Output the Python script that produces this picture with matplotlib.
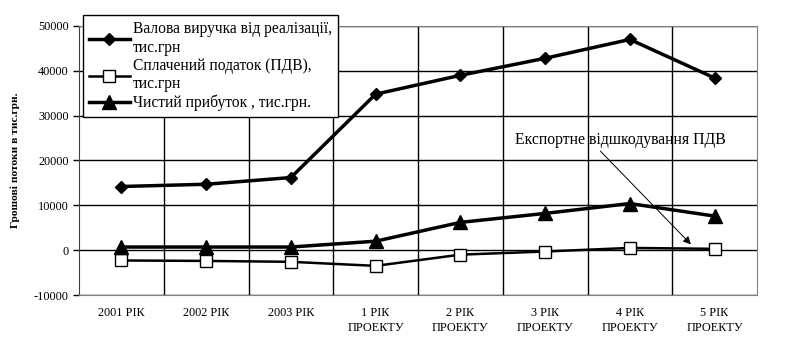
import numpy as np
import matplotlib
matplotlib.use('Agg')
import matplotlib.pyplot as plt

plt.rcParams['font.family'] = ['Liberation Serif', 'DejaVu Serif']
plt.rcParams['axes.unicode_minus'] = False

categories = ['2001 РІК', '2002 РІК', '2003 РІК', '1 РІК\nПРОЕКТУ', '2 РІК\nПРОЕКТУ',
              '3 РІК\nПРОЕКТУ', '4 РІК\nПРОЕКТУ', '5 РІК\nПРОЕКТУ']
revenue = [14200, 14700, 16200, 34800, 39000, 42800, 47000, 38400]
vat_paid = [-2300, -2400, -2600, -3500, -1000, -300, 500, 300]
net_profit = [700, 700, 700, 2000, 6200, 8200, 10400, 7600]

fig = plt.figure(figsize=(7.87, 3.51), dpi=100)
ax = fig.add_axes([79/787, 1 - 295/351, (757-79)/787, (295-26)/351])

x = np.arange(len(categories))
ax.plot(x, revenue, color='black', lw=2.5, marker='D', ms=6, mfc='black', mec='black',
        label='Валова виручка від реалізації,\nтис.грн')
ax.plot(x, vat_paid, color='black', lw=1.8, marker='s', ms=8, mfc='white', mec='black',
        label='Сплачений податок (ПДВ),\nтис.грн')
ax.plot(x, net_profit, color='black', lw=2.5, marker='^', ms=10.5, mfc='black', mec='black',
        label='Чистий прибуток , тис.грн.')

ax.set_xlim(-0.5, len(categories) - 0.5)
ax.set_ylim(-10000, 50000)
ax.set_yticks(np.arange(-10000, 50001, 10000))
ax.set_xticks(x)
ax.set_xticklabels(categories, fontsize=8.8, linespacing=1.25)
ax.tick_params(axis='y', labelsize=8.8, length=4, direction='out', width=1)
ax.tick_params(axis='x', length=0, pad=9)

ax.set_xticks(np.arange(0.5, len(categories) - 1, 1), minor=True)
ax.grid(True, which='minor', axis='x', color='black', lw=1)
ax.grid(True, which='major', axis='y', color='black', lw=1)
ax.tick_params(axis='x', which='minor', length=0)
ax.set_axisbelow(True)

for side in ['top', 'right', 'bottom']:
    ax.spines[side].set_color('#808080')
ax.spines['left'].set_color('#404040')

ax.set_ylabel('Грошові потоки в тис.грн.', fontsize=8.2, fontweight='bold', labelpad=10)

leg = ax.legend(loc='upper left', bbox_to_anchor=(4/678, 1.041), borderaxespad=0,
                fontsize=11.2, frameon=True, fancybox=False, edgecolor='black',
                framealpha=1, handlelength=2.6, borderpad=0.4, labelspacing=0.15,
                handletextpad=0.2)
leg.get_frame().set_linewidth(1)

ax.annotate('Експортне відшкодування ПДВ', xy=(6.72, 1300), xytext=(4.65, 24500),
            fontsize=11.3, ha='left', va='center',
            arrowprops=dict(arrowstyle='-|>', color='black', lw=0.7,
                            shrinkA=0, shrinkB=0, relpos=(0.39, 0)))

fig.savefig('out.png', dpi=100)
